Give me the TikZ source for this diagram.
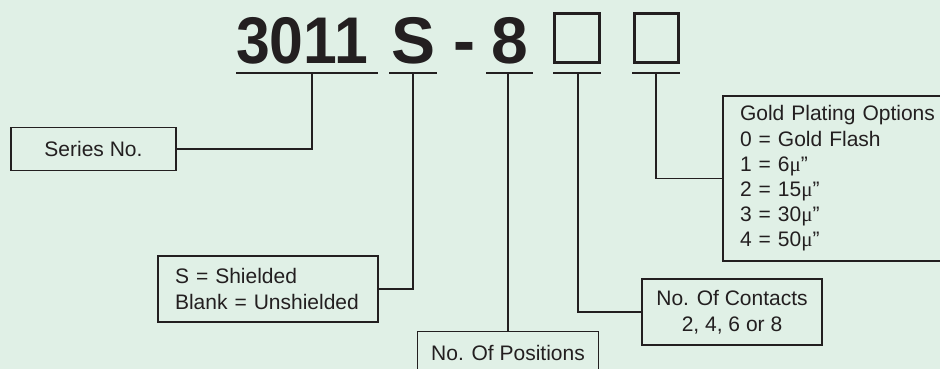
\documentclass[tikz,border=0pt]{standalone}
\usepackage{fontspec}
\setmainfont{Liberation Sans}
\newfontfamily\seriffont{Liberation Serif}
\definecolor{bg}{RGB}{224,240,230}
\definecolor{ink}{RGB}{35,31,32}
\newcommand{\mumark}{{\seriffont μ}”}
\begin{document}
\begin{tikzpicture}[x=1pt,y=-1pt,
  conn/.style={draw=ink, line width=1.4pt},
  lbl/.style={draw=ink, line width=1.4pt, text=ink, inner sep=0pt,
     font=\fontsize{21}{26}\selectfont},
  head/.style={text=ink, inner sep=0pt, font=\fontsize{66}{70}\selectfont\bfseries},
  hbox/.style={draw=ink, line width=3pt, inner sep=0pt, minimum width=44.4pt, minimum height=49.6pt}
]
\useasboundingbox (0,0) rectangle (940,369);
\fill[bg] (0,0) rectangle (940,369);
\clip (0,0) rectangle (940,369);

% heading
\node[head, anchor=base] (h3011) at (302,64) {\scalebox{0.92}[1]{3011}};
\node[head, anchor=base] (hS) at (413.5,64) {S};
\node[head, anchor=base] (hdash) at (464,64) {-};
\node[head, anchor=base] (h8) at (509.5,64) {8};
\node[hbox] (b1) at (577,38) {};
\node[hbox] (b2) at (656.4,38) {};

% underlines
\coordinate (u1l) at (236,73); \coordinate (u1r) at (378,73); \coordinate (u1) at (312,73);
\coordinate (u2l) at (389,73); \coordinate (u2r) at (437,73); \coordinate (u2) at (413,73);
\coordinate (u3l) at (486,73); \coordinate (u3r) at (533,73); \coordinate (u3) at (508,73);
\coordinate (u4l) at (553,73); \coordinate (u4r) at (601,73); \coordinate (u4) at (578,73);
\coordinate (u5l) at (632,73); \coordinate (u5r) at (680,73); \coordinate (u5) at (656,73);
\foreach \a/\b in {u1l/u1r,u2l/u2r,u3l/u3r,u4l/u4r,u5l/u5r} \draw[conn] (\a) -- (\b);

% label boxes
\node[lbl, minimum width=165pt, minimum height=43pt] (series) at (93.5,149) {Series No.};
\node[lbl, text width=186pt, inner xsep=17pt, minimum height=66pt, align=left] (shield) at (268,289)
  {S = Shielded\\Blank = Unshielded};
\node[lbl, minimum width=181pt, inner ysep=14pt, anchor=north] (pos) at (508,331) {No. Of Positions};
\node[lbl, minimum width=180pt, minimum height=66pt, align=center] (contacts) at (732,312)
  {No. Of Contacts\\2, 4, 6 or 8};
\node[lbl, text width=210pt, inner xsep=17pt, minimum height=165pt, align=left,
  font=\fontsize{21}{25.2}\selectfont] (gold) at (845,178.5)
  {Gold Plating Options\\0 = Gold Flash\\1 = 6\mumark\\2 = 15\mumark\\3 = 30\mumark\\4 = 50\mumark};

% connectors
\draw[conn] (u1) |- (series.east);
\draw[conn] (u2) |- (shield.east);
\draw[conn] (u3) -- (pos.north);
\draw[conn] (u4) |- (contacts.west);
\draw[conn] (u5) |- (gold.west);
\end{tikzpicture}
\end{document}
